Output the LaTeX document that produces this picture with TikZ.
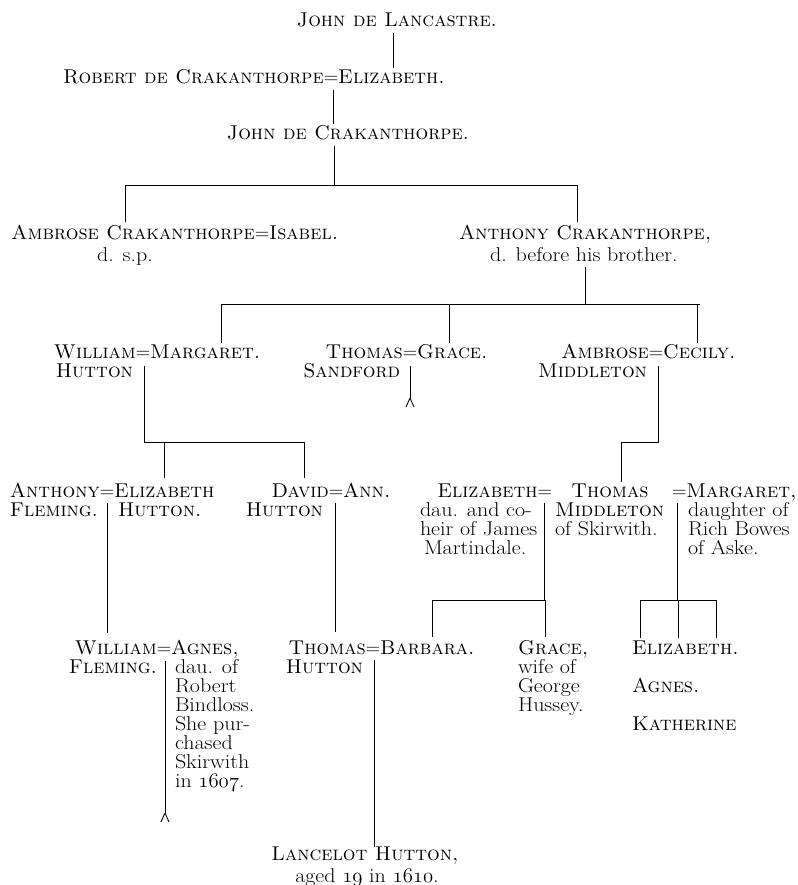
\documentclass[tikz,border=0pt]{standalone}
\usepackage{fontspec}
\newfontfamily\lowf[FakeStretch=1.1]{Latin Modern Roman}
\newcommand\osn[1]{{\usefont{OML}{cmm}{m}{it}#1}}
\tikzset{
  txt/.style={inner sep=0pt, outer sep=0pt, font=\fontsize{20}{19}\selectfont, anchor=base west},
  ctr/.style={txt, anchor=base},
  rgt/.style={txt, anchor=base east},
  low/.style={txt, font=\lowf\fontsize{20}{19}\selectfont},
  lowc/.style={low, anchor=base},
  ln/.style={line width=0.9pt, line cap=butt},
}
\newcommand\forkat[1]{\draw[ln] (#1) -- ++(-4,-9) (#1) -- ++(4,-9);}
\begin{document}
\begin{tikzpicture}[x=1pt,y=1pt]
\useasboundingbox (0,0) rectangle (797,-885);

% ---- Generation 1
\node[ctr] (jl) at (397,-27) {\textsc{John de Lancastre.}};
% ---- Generation 2
\node[ctr] (eqB) at (331,-84) {=};
\node[rgt] (rob) at (eqB.base west) {\textsc{Robert de Crakanthorpe}};
\node[txt] (elz) at (eqB.base east) {\textsc{Elizabeth.}};
% ---- Generation 3
\node[ctr] (jc) at (348,-140) {\textsc{John de Crakanthorpe.}};
% ---- Generation 4
\node[ctr] (eqD) at (262,-240) {=};
\node[rgt] (amb) at (eqD.base west) {\textsc{Ambrose Crakanthorpe}};
\node[txt] (isa) at (eqD.base east) {\textsc{Isabel.}};
\node[lowc] (dsp) at (125,-261) {d. s.p.};
\node[txt] (ant) at (459,-240) {\textsc{Anthony Crakanthorpe,}};
\node[low] (antb) at (490,-261) {d. before his brother.};
% ---- Generation 5
\node[ctr] (eqW) at (143,-358) {=};
\node[rgt] (wil) at (eqW.base west) {\textsc{William}};
\node[txt] (mar) at (eqW.base east) {\textsc{Margaret.}};
\node[rgt] (wilh) at (133,-377) {\textsc{Hutton}};
\node[ctr] (eqT) at (410,-358) {=};
\node[rgt] (tho) at (eqT.base west) {\textsc{Thomas}};
\node[txt] (gra) at (eqT.base east) {\textsc{Grace.}};
\node[rgt] (thos) at (400,-377) {\textsc{Sandford}};
\node[ctr] (eqA) at (656,-358) {=};
\node[rgt] (amb2) at (eqA.base west) {\textsc{Ambrose}};
\node[txt] (cec) at (eqA.base east) {\textsc{Cecily.}};
\node[rgt] (ambm) at (647,-377) {\textsc{Middleton}};
% ---- Generation 6
\node[ctr] (eqF) at (107,-497) {=};
\node[rgt] (anf) at (eqF.base west) {\textsc{Anthony}};
\node[txt] (elh) at (eqF.base east) {\textsc{Elizabeth}};
\node[rgt] (anf2) at (98,-516) {\textsc{Fleming.}};
\node[txt] (elh2) at (118,-516) {\textsc{Hutton.}};
\node[ctr] (eqDv) at (336,-497) {=};
\node[rgt] (dav) at (eqDv.base west) {\textsc{David}};
\node[txt] (ann) at (eqDv.base east) {\textsc{Ann.}};
\node[rgt] (davh) at (323,-516) {\textsc{Hutton}};
\node[rgt] (elm) at (552,-497) {\textsc{Elizabeth}=};
\node[low] (elm1) at (420,-516) {dau. and co-};
\node[low] (elm2) at (420,-535) {heir of James};
\node[low] (elm3) at (424,-554) {Martindale.};
\node[ctr] (tm) at (610,-497) {\textsc{Thomas}};
\node[txt] (tm1) at (555,-516) {\textsc{Middleton}};
\node[low] (tm2) at (555,-535) {of Skirwith.};
\node[txt] (mb) at (672,-497) {=\textsc{Margaret,}};
\node[low] (mb1) at (688,-516) {daughter of};
\node[low] (mb2) at (688,-535) {Rich Bowes};
\node[low] (mb3) at (688,-554) {of Aske.};
% ---- Generation 7
\node[ctr] (eqG) at (164,-654) {=};
\node[rgt] (wf) at (eqG.base west) {\textsc{William}};
\node[txt] (ag) at (eqG.base east) {\textsc{Agnes,}};
\node[rgt] (wf2) at (157,-673) {\textsc{Fleming.}};
\foreach \t [count=\i] in {{dau. of}, {Robert}, {Bindloss.}, {She pur-}, {chased}, {Skirwith}, {in \osn{1607}.}}
  \node[low] (ag\i) at (175,-654-19*\i) {\t};
\node[ctr] (eqH) at (373,-654) {=};
\node[rgt] (th) at (eqH.base west) {\textsc{Thomas}};
\node[txt] (bar) at (eqH.base east) {\textsc{Barbara.}};
\node[rgt] (th2) at (363,-673) {\textsc{Hutton}};
\node[txt] (gr) at (518,-654) {\textsc{Grace,}};
\node[low] (gr1) at (518,-673) {wife of};
\node[low] (gr2) at (518,-692) {George};
\node[low] (gr3) at (518,-711) {Hussey.};
\node[txt] (ez) at (632,-654) {\textsc{Elizabeth.}};
\node[txt] (an) at (632,-692) {\textsc{Agnes.}};
\node[txt] (ka) at (632,-730) {\textsc{Katherine}};
% ---- Generation 8
\node[ctr] (lh) at (365,-860) {\textsc{Lancelot Hutton,}};
\node[lowc] (lh2) at (367,-882) {aged \osn{19} in \osn{1610}.};

% ---- connectors
\draw[ln] (393,-33) -- (393,-68);
\draw[ln] (333,-90) -- (333,-124);
\draw[ln] (334,-146) -- (334,-185);
\coordinate (b1l) at (125,-185); \coordinate (b1r) at (578,-185);
\draw[ln] (b1l) -- (b1r);
\draw[ln] (b1l) -- (125,-222);
\draw[ln] (577,-185) -- (577,-222);
\draw[ln] (585,-267) -- (585,-304);
\coordinate (b2l) at (221,-304); \coordinate (b2r) at (700,-304);
\draw[ln] (b2l) -- (b2r);
\draw[ln] (b2l) -- (221,-343);
\draw[ln] (449,-304) -- (449,-343);
\draw[ln] (697,-304) -- (697,-343);
% William = Margaret
\draw[ln] (144,-366) -- (144,-442) -- (305,-442);
\draw[ln] (164,-442) -- (164,-478);
\draw[ln] (304,-442) -- (304,-478);
% Thomas = Grace
\coordinate (fk1) at (410,-398);
\draw[ln] (410,-366) -- (fk1);
\forkat{fk1}
% Ambrose = Cecily
\draw[ln] (658,-366) -- (658,-442) -- (621,-442) -- (621,-482);
% Anthony = Elizabeth
\draw[ln] (107,-503) -- (107,-633);
% David = Ann
\draw[ln] (335,-503) -- (335,-632);
% Thomas Middleton = Elizabeth
\draw[ln] (544,-503) -- (544,-600) -- (432,-600) -- (432,-637);
\draw[ln] (545,-600) -- (545,-637);
% Thomas Middleton = Margaret
\draw[ln] (677,-503) -- (677,-600);
\draw[ln] (640,-600) -- (716,-600);
\draw[ln] (640,-600) -- (640,-638);
\draw[ln] (678,-600) -- (678,-638);
\draw[ln] (716,-600) -- (716,-638);
% William = Agnes
\coordinate (fk2) at (165,-813);
\draw[ln] (165,-661) -- (fk2);
\forkat{fk2}
% Thomas = Barbara
\draw[ln] (374,-660) -- (374,-847);
\end{tikzpicture}
\end{document}
